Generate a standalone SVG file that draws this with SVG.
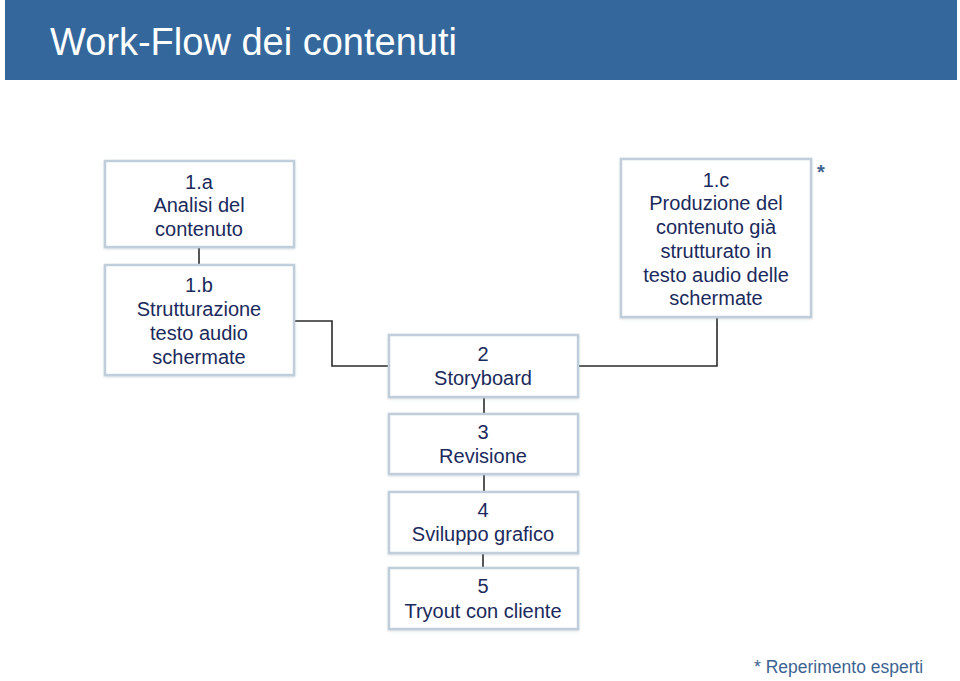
<svg xmlns="http://www.w3.org/2000/svg" width="960" height="681" viewBox="0 0 960 681">
<defs>
<style>
.box{fill:#ffffff;stroke:#c0cedc;stroke-width:2.5}
.t{font-family:"Liberation Sans",Arial,sans-serif;font-size:20px;fill:#1b2a5c;text-anchor:middle}
.c{fill:none;stroke:#2b2b2b;stroke-width:1.6}
</style>
<filter id="sh" x="-5%" y="-5%" width="110%" height="115%">
<feDropShadow dx="0" dy="1" stdDeviation="1" flood-color="#8899aa" flood-opacity="0.35"/>
</filter>
</defs>
<rect x="0" y="0" width="960" height="681" fill="#ffffff"/>
<rect x="5" y="0" width="952" height="80" fill="#34689c"/>
<text x="50" y="55" font-family="Liberation Sans,Arial,sans-serif" font-size="38" fill="#ffffff">Work-Flow dei contenuti</text>

<g id="connectors">
<line class="c" x1="199" y1="247" x2="199" y2="265"/>
<polyline class="c" points="294,321 332,321 332,366 389,366"/>
<polyline class="c" points="578,366 717,366 717,317"/>
<line class="c" x1="484" y1="397" x2="484" y2="414"/>
<line class="c" x1="484" y1="474" x2="484" y2="492"/>
<line class="c" x1="483" y1="553" x2="483" y2="568"/>
</g>

<g id="n1a">
<rect class="box" filter="url(#sh)" x="105" y="161" width="189" height="86"/>
<text class="t" x="199" y="189">1.a</text>
<text class="t" x="199" y="212">Analisi del</text>
<text class="t" x="199" y="236">contenuto</text>
</g>
<g id="n1b">
<rect class="box" filter="url(#sh)" x="105" y="265" width="189" height="110"/>
<text class="t" x="199" y="292">1.b</text>
<text class="t" x="199" y="316">Strutturazione</text>
<text class="t" x="199" y="340">testo audio</text>
<text class="t" x="199" y="364">schermate</text>
</g>
<g id="n1c">
<rect class="box" filter="url(#sh)" x="621" y="159" width="190" height="158"/>
<text class="t" x="716" y="187">1.c</text>
<text class="t" x="716" y="210">Produzione del</text>
<text class="t" x="716" y="234">contenuto già</text>
<text class="t" x="716" y="258">strutturato in</text>
<text class="t" x="716" y="282">testo audio delle</text>
<text class="t" x="716" y="305">schermate</text>
</g>
<text x="821" y="179" font-family="Liberation Sans,Arial,sans-serif" font-size="20" font-weight="bold" fill="#3d6391" text-anchor="middle">*</text>
<g id="n2">
<rect class="box" filter="url(#sh)" x="389" y="335" width="189" height="62"/>
<text class="t" x="483" y="361">2</text>
<text class="t" x="483" y="385">Storyboard</text>
</g>
<g id="n3">
<rect class="box" filter="url(#sh)" x="389" y="414" width="189" height="60"/>
<text class="t" x="483" y="439">3</text>
<text class="t" x="483" y="463">Revisione</text>
</g>
<g id="n4">
<rect class="box" filter="url(#sh)" x="389" y="492" width="189" height="61"/>
<text class="t" x="483" y="517">4</text>
<text class="t" x="483" y="541">Sviluppo grafico</text>
</g>
<g id="n5">
<rect class="box" filter="url(#sh)" x="389" y="568" width="189" height="61"/>
<text class="t" x="483" y="593">5</text>
<text class="t" x="483" y="618">Tryout con cliente</text>
</g>
<text x="754" y="673" font-family="Liberation Sans,Arial,sans-serif" font-size="17.5" fill="#3d6391">* Reperimento esperti</text>
</svg>
